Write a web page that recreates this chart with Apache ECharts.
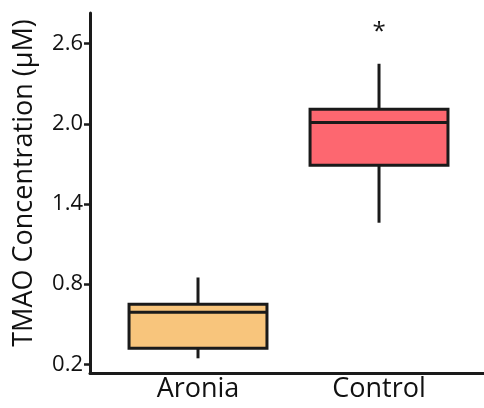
<!DOCTYPE html>
<html><head><meta charset="utf-8">
<script src="https://cdn.jsdelivr.net/npm/echarts@6/dist/echarts.min.js"></script>
<style>html,body{margin:0;padding:0;background:#fff}#c{width:484px;height:408px}</style>
</head><body><div id="c"></div>
<script>
const categories = ['Aronia', 'Control'];
const lowerWhisker = [0.245, 1.26];
const q1 = [0.32, 1.69];
const median = [0.59, 2.01];
const q3 = [0.65, 2.11];
const upperWhisker = [0.85, 2.45];
const boxColors = ['#F8C57C', '#FD6770'];
const yTicks = [0.2, 0.8, 1.4, 2.0, 2.6];
const significance = ['', '*'];
const sigValue = [null, 2.69];

const FONT = 'Open Sans';
const data = categories.map((c, i) => [i + 1, lowerWhisker[i], q1[i], median[i], q3[i], upperWhisker[i], i]);
const sigData = categories.map((c, i) => [i + 1, sigValue[i], i]).filter(d => d[1] != null);

const chart = echarts.init(document.getElementById('c'), null, {renderer: 'canvas'});
chart.setOption({
  animation: false,
  grid: {left: 90, right: 0, top: 13, bottom: 35, containLabel: false, outerBoundsMode: 'none'},
  xAxis: {
    type: 'value', min: 0.4033, max: 2.58,
    splitLine: {show: false},
    axisLine: {show: true, onZero: false, lineStyle: {color: '#1a1a1a', width: 3}},
    axisTick: {show: false},
    axisLabel: {
      customValues: [1, 2],
      formatter: v => categories[Math.round(v) - 1] || '',
      fontFamily: FONT, fontSize: 27, color: '#111', margin: 3
    }
  },
  yAxis: {
    type: 'value', min: 0.135, max: 2.83,
    splitLine: {show: false},
    axisLine: {show: true, onZero: false, lineStyle: {color: '#1a1a1a', width: 3}},
    axisTick: {show: true, customValues: yTicks, length: 6, lineStyle: {color: '#1a1a1a', width: 2.5}},
    axisLabel: {customValues: yTicks, formatter: v => v.toFixed(1), fontFamily: FONT, fontSize: 22, color: '#111', margin: 7},
    name: 'TMAO Concentration (μM)',
    nameLocation: 'middle', nameGap: 52, nameRotate: 90,
    nameTextStyle: {fontFamily: FONT, fontSize: 27, color: '#111', padding: [0, 0, 0, 20]}
  },
  series: [{
    type: 'custom',
    data: data,
    renderItem: function (params, api) {
      const x = api.value(0);
      const pLow = api.coord([x, api.value(1)]);
      const pQ1 = api.coord([x, api.value(2)]);
      const pMed = api.coord([x, api.value(3)]);
      const pQ3 = api.coord([x, api.value(4)]);
      const pHigh = api.coord([x, api.value(5)]);
      const w = api.size([0.762, 0])[0];
      const idx = api.value(6);
      const stroke = '#1a1a1a';
      return {
        type: 'group',
        children: [
          {type: 'line', shape: {x1: pLow[0], y1: pLow[1], x2: pQ1[0], y2: pQ1[1]}, style: {stroke, lineWidth: 3}},
          {type: 'line', shape: {x1: pQ3[0], y1: pQ3[1], x2: pHigh[0], y2: pHigh[1]}, style: {stroke, lineWidth: 3}},
          {type: 'rect', shape: {x: pQ3[0] - w / 2, y: pQ3[1], width: w, height: pQ1[1] - pQ3[1]},
            style: {fill: boxColors[idx], stroke, lineWidth: 3}},
          {type: 'line', shape: {x1: pMed[0] - w / 2, y1: pMed[1], x2: pMed[0] + w / 2, y2: pMed[1]}, style: {stroke, lineWidth: 3}}
        ]
      };
    }
  }, {
    type: 'custom',
    data: sigData,
    renderItem: function (params, api) {
      const p = api.coord([api.value(0), api.value(1)]);
      return {type: 'text', x: p[0], y: p[1],
        style: {text: significance[api.value(2)], fontFamily: FONT, fontSize: 24, fill: '#111', align: 'center', verticalAlign: 'middle'}};
    }
  }]
});
</script>
</body></html>
